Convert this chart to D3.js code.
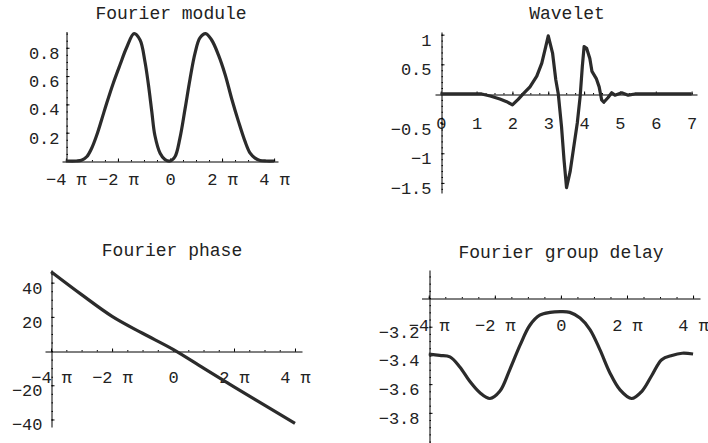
<!DOCTYPE html>
<html>
<head>
<meta charset="utf-8">
<script src="https://cdn.jsdelivr.net/npm/d3@7"></script>
<style>
  body { margin: 0; background: #fff; }
  svg text { font-family: "Liberation Mono", "DejaVu Sans Mono", monospace; fill: #222; }
</style>
</head>
<body>
<svg id="chart" width="708" height="443"></svg>
<script>
////////////
// DATA
////////////

// Fourier module, frequency in units of pi
const moduleW = [-4, -3.6, -3.4, -3.2, -3.01, -2.82, -2.63, -2.43, -2.18, -1.92, -1.67, -1.38, -1.15, -0.96, -0.83, -0.7, -0.58, -0.38, -0.19,
    0, 0.19, 0.38, 0.58, 0.77, 0.96, 1.15, 1.37, 1.6, 1.86, 2.12, 2.37, 2.63, 2.88, 3.08, 3.27, 3.46, 3.7, 4];
const moduleV = [0, 0, 0.005, 0.03, 0.09, 0.18, 0.29, 0.41, 0.55, 0.68, 0.8, 0.9, 0.855, 0.7, 0.54, 0.35, 0.18, 0.055, 0.01,
    0, 0.03, 0.16, 0.37, 0.58, 0.76, 0.87, 0.9, 0.855, 0.75, 0.61, 0.44, 0.28, 0.14, 0.055, 0.02, 0.004, 0, 0];

// Wavelet
const waveT = [0, 1.14, 1.38, 1.65, 1.84, 2.0, 2.16, 2.3, 2.49, 2.68, 2.82, 2.93, 3.0, 3.12, 3.21, 3.28, 3.37, 3.44, 3.51, 3.61,
    3.7, 3.81, 3.89, 3.95, 4.0, 4.07, 4.16, 4.22, 4.34, 4.42, 4.49, 4.55, 4.67, 4.77, 4.86, 5.05, 5.23, 5.42, 7];
const waveV = [0, 0, -0.034, -0.084, -0.13, -0.185, -0.09, 0, 0.12, 0.3, 0.52, 0.8, 0.98, 0.69, 0.24, 0, -0.55, -1.11, -1.58, -1.31,
    -0.94, -0.49, -0.04, 0.46, 0.8, 0.77, 0.6, 0.38, 0.26, 0.12, -0.1, -0.14, -0.06, 0.02, -0.02, 0.02, -0.02, 0, 0];

// Fourier phase
const phaseW = [-4, -3, -2, -1, 0, 1, 2, 3, 4];
const phaseV = [46.4, 33, 20.3, 10.4, 1.0, -10, -20.9, -31.6, -42.3];

// Fourier group delay
const delayW = [-4, -3.67, -3.36, -3.06, -2.76, -2.45, -2.15, -1.85, -1.55, -1.24, -0.94, -0.64, -0.33, 0,
    0.27, 0.58, 0.88, 1.18, 1.48, 1.79, 2.14, 2.45, 2.75, 3.05, 3.36, 3.67, 4];
const delayV = [-3.39, -3.4, -3.41, -3.48, -3.58, -3.66, -3.7, -3.65, -3.5, -3.33, -3.19, -3.12, -3.1, -3.095,
    -3.1, -3.14, -3.22, -3.36, -3.52, -3.64, -3.7, -3.65, -3.54, -3.43, -3.4, -3.385, -3.39];

// tick values
const piTicks = [-4, -2, 0, 2, 4];
const waveXTicks = [0, 1, 2, 3, 4, 5, 6, 7];
const moduleYTicks = [0.2, 0.4, 0.6, 0.8];
const waveYTicks = [1, 0.5, -0.5, -1, -1.5];
const phaseYTicks = [40, 20, -20, -40];
const delayYTicks = [-3.2, -3.4, -3.6, -3.8];

////////////
// SETTINGS
////////////
const svg = d3.select("#chart");
const fontSize = 17;
const titleSize = 18;
const lineColor = "#2b2b2b";
const smooth = d3.curveCatmullRom.alpha(0.5);

function piFormat(d) {
    if (d == 0) return "0";
    return (d < 0 ? "\u2212" : "") + Math.abs(d) + " \u03c0";
}
function numFormat(d) {
    return d < 0 ? "\u2212" + Math.abs(d) : String(d);
}

////////////
// DRAWING
////////////
function drawPanel(p) {
    const g = svg.append("g");

    const x = d3.scaleLinear().domain(p.xDomain).range(p.xRange);
    const y = d3.scaleLinear().domain(p.yDomain).range(p.yRange);

    const axisY = Math.round(y(p.xAxisAt)) + 0.5;
    const axisX = Math.round(x(p.yAxisAt)) + 0.5;

    // title
    g.append("text")
        .attr("x", p.titleX)
        .attr("y", p.titleY)
        .attr("dy", "0.35em")
        .attr("text-anchor", "middle")
        .style("font-size", titleSize + "px")
        .text(p.title);

    // x axis
    const xAxis = g.append("g")
        .attr("transform", "translate(0," + axisY + ")")
        .call(d3.axisBottom(x).tickValues(p.xTicks).tickSize(-3).tickSizeOuter(0).tickFormat(p.xFormat));
    xAxis.selectAll("text")
        .attr("y", p.xLabelOffset)
        .attr("dy", "0.35em")
        .style("font-size", fontSize + "px")
        .style("font-family", null);
    g.append("g")
        .attr("transform", "translate(0," + axisY + ")")
        .call(d3.axisBottom(x).tickValues(p.xMinor).tickSize(-1.5).tickFormat(""))
        .call(a => a.select(".domain").remove());

    // y axis
    const yAxis = g.append("g")
        .attr("transform", "translate(" + axisX + ",0)")
        .call(d3.axisLeft(y).tickValues(p.yTicks).tickSize(-3).tickSizeOuter(0).tickPadding(p.yPad).tickFormat(numFormat));
    yAxis.selectAll("text")
        .attr("y", 5)
        .style("font-size", fontSize + "px")
        .style("font-family", null);
    g.append("g")
        .attr("transform", "translate(" + axisX + ",0)")
        .call(d3.axisLeft(y).tickValues(p.yMinor).tickSize(-1.5).tickFormat(""))
        .call(a => a.select(".domain").remove());

    g.selectAll(".domain, .tick line").attr("stroke", "#000");

    // curve
    const line = d3.line()
        .x((d, i) => x(p.xs[i]))
        .y(d => y(d))
        .curve(p.curve);

    g.append("path")
        .datum(p.ys)
        .attr("d", line)
        .attr("fill", "none")
        .attr("stroke", lineColor)
        .attr("stroke-width", 3.2)
        .attr("stroke-linejoin", "round");
}

function range(a, b, step) {
    return d3.range(a, b + step / 2, step);
}

// Fourier module
drawPanel({
    title: "Fourier module", titleX: 171, titleY: 13,
    xDomain: [-4.15, 4.15], xRange: [62, 278],
    yDomain: [0, 0.915], yRange: [161, 31.5],
    xAxisAt: 0, yAxisAt: -4,
    xTicks: piTicks, xMinor: range(-4, 4, 0.5), xFormat: piFormat, xLabelOffset: 18,
    yTicks: moduleYTicks, yMinor: range(0.05, 0.9, 0.05), yPad: 7,
    xs: moduleW, ys: moduleV, curve: smooth
});

// Wavelet
drawPanel({
    title: "Wavelet", titleX: 567, titleY: 13,
    xDomain: [-0.16, 7.15], xRange: [435, 697],
    yDomain: [-1.67, 1.045], yRange: [193, 32],
    xAxisAt: 0, yAxisAt: 0,
    xTicks: waveXTicks, xMinor: range(0, 7, 0.25), xFormat: d => String(d), xLabelOffset: 29,
    yTicks: waveYTicks, yMinor: range(-1.6, 1, 0.1), yPad: 10,
    xs: waveT, ys: waveV, curve: d3.curveLinear
});

// Fourier phase
drawPanel({
    title: "Fourier phase", titleX: 172, titleY: 250,
    xDomain: [-4.2, 4.23], xRange: [45, 302],
    yDomain: [-44.4, 47.4], yRange: [427, 270],
    xAxisAt: 0, yAxisAt: -4,
    xTicks: piTicks, xMinor: range(-4, 4, 0.5), xFormat: piFormat, xLabelOffset: 26,
    yTicks: phaseYTicks, yMinor: range(-40, 45, 5), yPad: 9,
    xs: phaseW, ys: phaseV, curve: d3.curveMonotoneX
});

// Fourier group delay
drawPanel({
    title: "Fourier group delay", titleX: 561, titleY: 252,
    xDomain: [-4.22, 4.21], xRange: [421.5, 700],
    yDomain: [-4.01, -2.805], yRange: [443, 270],
    xAxisAt: -3.0, yAxisAt: -4,
    xTicks: piTicks, xMinor: range(-4, 4, 0.5), xFormat: piFormat, xLabelOffset: 27,
    yTicks: delayYTicks, yMinor: range(-4, -2.85, 0.05), yPad: 10,
    xs: delayW, ys: delayV, curve: smooth
});
</script>
</body>
</html>
